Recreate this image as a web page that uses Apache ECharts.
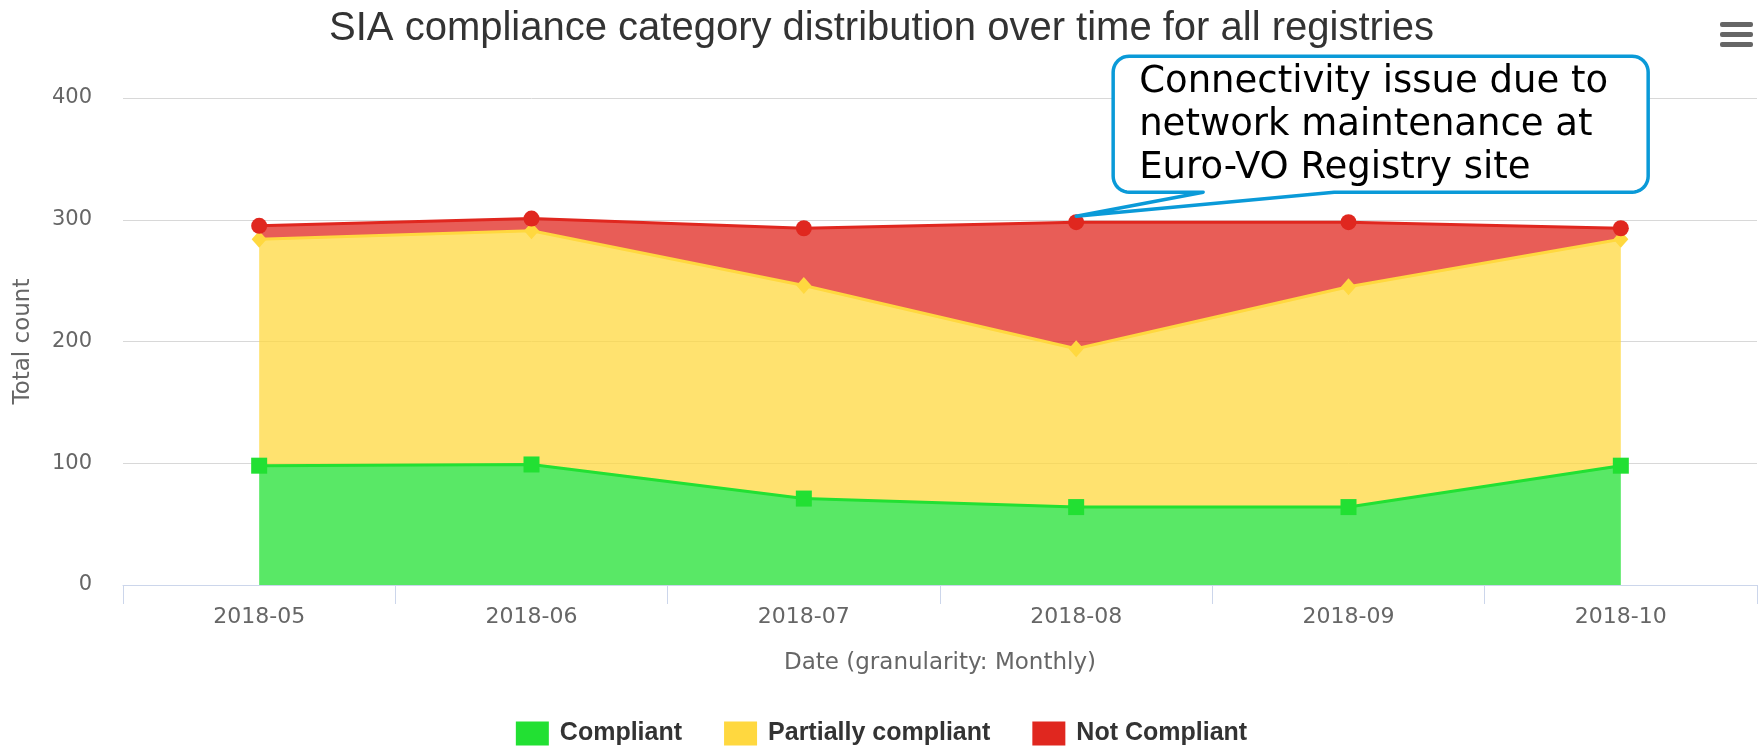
<!DOCTYPE html>
<html>
<head>
<meta charset="utf-8">
<script src="https://cdn.jsdelivr.net/npm/echarts@6/dist/echarts.min.js"></script>
<style>
html,body{margin:0;padding:0;background:#fff;}
#chart{width:1763px;height:746px;}
</style>
</head>
<body>
<div id="chart"></div>
<script>
const titleText = 'SIA compliance category distribution over time for all registries';
const categories = ['2018-05', '2018-06', '2018-07', '2018-08', '2018-09', '2018-10'];
const compliant = [98, 99, 71, 64, 64, 98];
const partiallyCompliant = [186, 192, 175, 130, 181, 186];
const notCompliant = [11, 10, 47, 104, 53, 9];
const yTicks = [0, 100, 200, 300, 400];
const annotationIndex = 3;
const annotationText = 'Connectivity issue due to\nnetwork maintenance at\nEuro-VO Registry site';

const colGreen = '#22e033';
const colYellow = '#ffd83f';
const colRed = '#e0271f';
const labelFont = 'DejaVu Sans';
const axisGray = '#666666';

const chart = echarts.init(document.getElementById('chart'), null, {renderer: 'canvas'});

function areaSeries(name, data, color, symbol, symbolSize) {
  return {
    name: name,
    type: 'line',
    stack: 'total',
    data: data,
    symbol: symbol,
    symbolSize: symbolSize,
    showSymbol: true,
    lineStyle: {color: color, width: 3},
    itemStyle: {color: color, opacity: 1},
    areaStyle: {color: color, opacity: 0.75},
    emphasis: {disabled: true},
    animation: false
  };
}

const option = {
  animation: false,
  title: {
    text: titleText,
    left: 'center',
    top: 4,
    textStyle: {fontFamily: 'Liberation Sans', fontSize: 40, fontWeight: 'normal', color: '#333333'}
  },
  legend: {
    bottom: -5,
    left: 'center',
    icon: 'rect',
    itemWidth: 33,
    itemHeight: 24,
    itemGap: 42,
    selectedMode: false,
    textStyle: {fontFamily: 'Liberation Sans', fontSize: 25, fontWeight: 'bold', color: '#333333', padding: [0, 0, 0, 6]},
    data: ['Compliant', 'Partially compliant', 'Not Compliant']
  },
  grid: {left: 123, right: 6, top: 98, bottom: 161, containLabel: false},
  xAxis: {
    type: 'category',
    data: categories,
    boundaryGap: true,
    name: 'Date (granularity: Monthly)',
    nameLocation: 'middle',
    nameGap: 67,
    nameTextStyle: {fontFamily: labelFont, fontSize: 23, color: axisGray},
    axisLine: {lineStyle: {color: '#ccd6eb', width: 1}},
    axisTick: {show: true, length: 19, lineStyle: {color: '#ccd6eb'}},
    axisLabel: {fontFamily: labelFont, fontSize: 22, color: axisGray, margin: 21}
  },
  yAxis: {
    type: 'value',
    min: yTicks[0],
    max: yTicks[yTicks.length - 1],
    interval: yTicks[1] - yTicks[0],
    name: 'Total count',
    nameLocation: 'middle',
    nameGap: 88,
    nameRotate: 90,
    nameTextStyle: {fontFamily: labelFont, fontSize: 23, color: axisGray},
    axisLine: {show: false},
    axisTick: {show: false},
    axisLabel: {fontFamily: labelFont, fontSize: 21, color: axisGray, margin: 31},
    splitLine: {lineStyle: {color: '#d8d8d8', width: 1}}
  },
  series: [
    areaSeries('Compliant', compliant, colGreen, 'rect', 16),
    areaSeries('Partially compliant', partiallyCompliant, colYellow, 'diamond', [15, 17]),
    areaSeries('Not Compliant', notCompliant, colRed, 'circle', 16)
  ]
};
chart.setOption(option);

// annotation callout anchored at the stacked top of the annotated month
const total = compliant[annotationIndex] + partiallyCompliant[annotationIndex] + notCompliant[annotationIndex];
const p = chart.convertToPixel({xAxisIndex: 0, yAxisIndex: 0}, [annotationIndex, total]);
const px = p[0], py = p[1];
const x0 = px + 37, x1 = px + 572, y0 = py - 166, y1 = py - 30, r = 16;
const tx = px, ty = py - 6, b1 = px + 127, b2 = px + 258;

function arcPts(cx, cy, a0, a1) {
  const pts = [];
  const n = 10;
  for (let i = 0; i <= n; i++) {
    const a = a0 + (a1 - a0) * i / n;
    pts.push([cx + r * Math.cos(a), cy + r * Math.sin(a)]);
  }
  return pts;
}
const H = Math.PI / 2;
let calloutPts = [];
calloutPts = calloutPts.concat(arcPts(x0 + r, y0 + r, 2 * H, 3 * H));   // top-left
calloutPts = calloutPts.concat(arcPts(x1 - r, y0 + r, 3 * H, 4 * H));   // top-right
calloutPts = calloutPts.concat(arcPts(x1 - r, y1 - r, 0, H));           // bottom-right
calloutPts.push([b2, y1], [tx, ty], [b1, y1]);
calloutPts = calloutPts.concat(arcPts(x0 + r, y1 - r, H, 2 * H));       // bottom-left

chart.setOption({
  graphic: [
    {
      type: 'polygon',
      shape: {points: calloutPts},
      style: {fill: '#ffffff', stroke: '#0a9ad8', lineWidth: 3.5, lineJoin: 'round'},
      z: 100
    },
    {
      type: 'text',
      x: px + 63,
      y: py - 161,
      style: {text: annotationText, fontFamily: 'DejaVu Sans', fontSize: 37, lineHeight: 43, fill: '#000000'},
      z: 101
    },
    {type: 'rect', right: 10, top: 22, shape: {width: 33, height: 5, r: 2}, style: {fill: '#666666'}, z: 100},
    {type: 'rect', right: 10, top: 32, shape: {width: 33, height: 5, r: 2}, style: {fill: '#666666'}, z: 100},
    {type: 'rect', right: 10, top: 42, shape: {width: 33, height: 5, r: 2}, style: {fill: '#666666'}, z: 100}
  ]
});
</script>
</body>
</html>
